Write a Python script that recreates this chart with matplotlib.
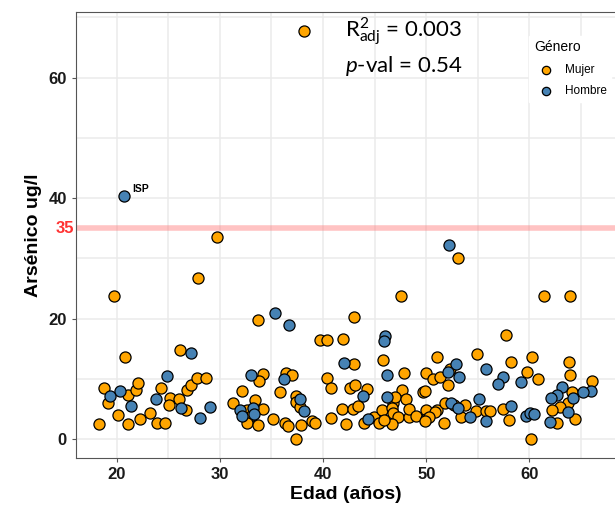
import matplotlib
matplotlib.use("Agg")
import matplotlib.pyplot as plt
import numpy as np

# Edad (años) vs Arsénico (ug/l)
mujer_edad = [38.15, 29.7, 27.9, 19.7, 33.65, 43.0, 47.6, 53.1, 61.4, 63.95,
              20.8, 26.1, 18.8, 19.2, 21.1, 21.9, 22.1, 20.1, 18.3, 21.1,
              22.3, 23.2, 23.9, 24.7, 24.3, 25.2, 26.0, 25.1, 26.7, 26.8,
              27.2, 27.8, 28.7, 31.3, 32.1, 34.2, 33.8, 33.4, 32.65, 32.9,
              33.1, 32.6, 33.7, 34.2, 35.1, 35.8, 36.4, 36.3, 36.6, 39.7,
              40.4, 41.9, 45.8, 43.0, 47.8, 40.4, 40.8, 42.6, 43.05, 44.3,
              47.7, 41.8, 42.9, 43.35, 40.8, 42.2, 44.0, 44.9, 45.4, 45.7,
              46.8, 47.0, 48.0, 46.7, 46.8, 47.3, 46.7, 48.3, 37.35, 37.0,
              37.4, 37.4, 37.75, 37.9, 38.9, 39.2, 45.9, 51.0, 54.9, 50.0,
              50.65, 51.3, 52.1, 52.3, 49.7, 49.9, 48.35, 49.0, 50.0, 51.0,
              50.85, 50.0, 50.3, 49.9, 51.75, 51.85, 52.7, 53.8, 53.4, 54.8,
              55.8, 56.2, 57.75, 58.2, 60.3, 63.8, 63.9, 59.8, 60.8, 66.1,
              64.1, 63.7, 63.0, 62.2, 64.4, 62.7, 60.15, 58.05, 57.4]
mujer_as = [67.7, 33.6, 26.8, 23.8, 19.7, 20.2, 23.8, 30.1, 23.8, 23.8,
            13.6, 14.8, 8.5, 5.9, 7.3, 8.1, 9.3, 4.0, 2.5, 2.5,
            3.3, 4.3, 2.6, 2.6, 8.5, 6.75, 6.6, 5.6, 4.9, 8.2,
            8.9, 10.2, 10.2, 6.0, 8.0, 10.8, 9.7, 6.5, 4.9, 3.6,
            4.0, 2.6, 2.4, 5.0, 3.3, 7.85, 10.9, 2.6, 2.2, 16.4,
            16.4, 16.6, 13.1, 12.4, 10.9, 10.2, 8.5, 8.5, 9.0, 8.35,
            8.2, 5.0, 5.0, 5.5, 3.5, 2.5, 2.6, 3.65, 2.7, 4.8,
            6.0, 6.9, 6.7, 5.1, 4.4, 3.6, 2.5, 3.7, 0.05, 10.7,
            7.1, 6.2, 5.4, 2.3, 3.0, 2.6, 3.15, 13.6, 14.1, 10.9,
            9.95, 10.3, 9.0, 11.6, 7.85, 8.0, 5.0, 3.9, 4.8, 4.8,
            4.5, 3.3, 3.6, 3.0, 2.6, 6.0, 5.6, 5.6, 3.7, 4.7,
            4.65, 4.7, 17.3, 12.8, 13.6, 12.8, 10.6, 11.2, 10.0, 9.7,
            7.85, 5.9, 5.25, 4.8, 3.3, 2.6, 0.05, 3.15, 5.0]

hombre_edad = [20.7, 35.3, 36.7, 52.2, 24.9, 27.2, 19.3, 20.3, 21.4, 23.8,
               26.2, 28.1, 29.0, 31.95, 33.05, 32.1, 33.2, 33.3, 36.2, 37.8,
               38.15, 46.0, 45.9, 42.05, 46.2, 43.9, 44.4, 46.15, 52.9, 52.1,
               53.2, 55.8, 52.4, 53.1, 54.2, 55.1, 55.8, 57.4, 57.0, 59.2,
               66.0, 65.2, 63.2, 62.7, 62.05, 64.25, 63.75, 62.0, 59.7, 60.1,
               60.4, 58.2]
hombre_as = [40.4, 21.0, 18.9, 32.2, 10.5, 14.3, 7.1, 7.9, 5.5, 6.6,
             5.2, 3.5, 5.3, 4.8, 10.6, 3.9, 5.1, 4.15, 9.9, 6.6,
             4.65, 17.1, 16.3, 12.6, 10.7, 7.1, 3.3, 7.0, 12.45, 11.2,
             10.3, 11.6, 6.0, 5.1, 3.6, 6.6, 3.0, 10.3, 9.2, 9.5,
             8.0, 7.85, 8.6, 7.3, 6.75, 6.75, 4.5, 2.8, 3.8, 4.4,
             4.1, 5.5]

limite = 35

fig = plt.figure(figsize=(6.15, 5.11), dpi=100)
ax = fig.add_axes([76 / 615, 1 - 458 / 511, 1 - 76 / 615, (458 - 12) / 511])

ax.set_xlim(16.05, 68.3)
ax.set_ylim(-3.15, 70.9)

ax.set_xticks([20, 30, 40, 50, 60])
ax.set_xticks([25, 35, 45, 55, 65], minor=True)
ax.set_yticks([0, 20, 40, 60])
ax.set_yticks([10, 30, 50, 70], minor=True)
ax.grid(True, which="both", color="#EBEBEB", lw=1.1, zorder=0)
ax.set_axisbelow(True)

ax.axhline(limite, color="#ff7b7b", alpha=0.45, lw=4, zorder=1)

ax.scatter(mujer_edad, mujer_as, s=64, c="#FFA500", edgecolors="black",
           linewidths=0.9, label="Mujer", zorder=3)
ax.scatter(hombre_edad, hombre_as, s=64, c="#4682B4", edgecolors="black",
           linewidths=0.9, label="Hombre", zorder=3)

ax.annotate("ISP", (hombre_edad[0], hombre_as[0]), xytext=(6, 3),
            textcoords="offset points", fontsize=7.5, fontweight="bold",
            family="Liberation Sans")

ax.text(-0.004, limite, "35", color="#ff3333", fontsize=12, fontweight="bold",
        family="Liberation Sans", ha="right", va="center",
        transform=ax.get_yaxis_transform())

for s in ["top", "left", "bottom"]:
    ax.spines[s].set_color("#555555")
ax.spines["right"].set_visible(False)
ax.tick_params(which="major", length=3, color="#555555", labelsize=12)
ax.tick_params(which="minor", length=0)
for lab in ax.get_xticklabels() + ax.get_yticklabels():
    lab.set_fontweight("bold")
    lab.set_family("Liberation Sans")
    lab.set_color("#1a1a1a")

ax.set_xlabel("Edad (años)", fontsize=14, fontweight="bold", family="Liberation Sans", labelpad=3)
ax.set_ylabel("Arsénico ug/l", fontsize=14, fontweight="bold", family="Liberation Sans", labelpad=5)

plt.rcParams["mathtext.fontset"] = "custom"
plt.rcParams["mathtext.rm"] = "Lato"
plt.rcParams["mathtext.it"] = "Lato:italic"
ax.text(0.499, 0.955, r"R$^{2}_{\mathrm{adj}}$ = 0.003", transform=ax.transAxes,
        fontsize=16, family="Lato", va="center", ha="left")
ax.text(0.499, 0.879, r"$\mathit{p}$-val = 0.54", transform=ax.transAxes,
        fontsize=16, family="Lato", va="center", ha="left")

leg = ax.legend(title="Género", loc="upper left", bbox_to_anchor=(0.83, 0.96),
                frameon=True, fancybox=False, edgecolor="white", framealpha=1,
                prop={"family": "Liberation Sans", "size": 8.5},
                title_fontproperties={"family": "Liberation Sans", "size": 10},
                markerscale=0.75, handletextpad=0.6, labelspacing=0.8)
leg._legend_box.align = "left"

fig.savefig("out.png", dpi=100)
